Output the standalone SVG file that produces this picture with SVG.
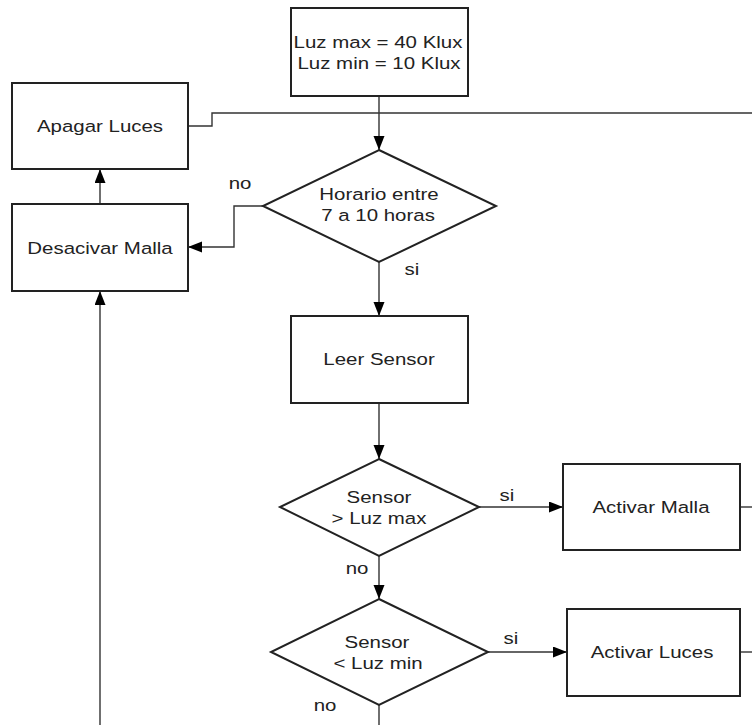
<svg xmlns="http://www.w3.org/2000/svg" width="752" height="725" viewBox="0 0 752 725">
<defs>
<style>
.box{fill:#fff;stroke:#222;stroke-width:2}
.conn{fill:none;stroke:#333;stroke-width:1.4}
.t{font-family:"Liberation Sans",Arial,sans-serif;font-size:16.5px;fill:#222;text-anchor:middle}
</style>
<marker id="ah" markerUnits="userSpaceOnUse" markerWidth="14" markerHeight="12" refX="14" refY="5.5" orient="auto">
<path d="M0,0 L14,5.5 L0,11 z" fill="#000"/>
</marker>
</defs>
<rect width="752" height="725" fill="#fff"/>
<g id="connectors">
<path class="conn" d="M379,96 L379,150" marker-end="url(#ah)"/>
<path class="conn" d="M188,126 L212,126 L212,113 L752,113"/>
<path class="conn" d="M263,206 L234,206 L234,247 L188,247" marker-end="url(#ah)"/>
<path class="conn" d="M100,204 L100,169" marker-end="url(#ah)"/>
<path class="conn" d="M100,725 L100,291" marker-end="url(#ah)"/>
<path class="conn" d="M379,262 L379,316" marker-end="url(#ah)"/>
<path class="conn" d="M379,403 L379,459" marker-end="url(#ah)"/>
<path class="conn" d="M379,556 L379,599" marker-end="url(#ah)"/>
<path class="conn" d="M479,507 L563,507" marker-end="url(#ah)"/>
<path class="conn" d="M488,652 L567,652" marker-end="url(#ah)"/>
<path class="conn" d="M379,705 L379,725"/>
<path class="conn" d="M740,507 L752,507"/>
<path class="conn" d="M740,652 L752,652"/>
<text class="t" transform="matrix(1.24 0 0 1 240 189)">no</text>
<text class="t" transform="matrix(1.24 0 0 1 412 275)">si</text>
<text class="t" transform="matrix(1.24 0 0 1 507 501)">si</text>
<text class="t" transform="matrix(1.24 0 0 1 357 574)">no</text>
<text class="t" transform="matrix(1.24 0 0 1 511 644)">si</text>
<text class="t" transform="matrix(1.24 0 0 1 325 711)">no</text>
</g>
<g id="start">
<rect class="box" x="291" y="8" width="177" height="88"/>
<text class="t" transform="matrix(1.24 0 0 1 378 48)">Luz max = 40 Klux</text>
<text class="t" transform="matrix(1.24 0 0 1 379 69)">Luz min = 10 Klux</text>
</g>
<g id="apagar-luces">
<rect class="box" x="12" y="83" width="176" height="86"/>
<text class="t" transform="matrix(1.24 0 0 1 100 132)">Apagar Luces</text>
</g>
<g id="desacivar-malla">
<rect class="box" x="12" y="204" width="176" height="87"/>
<text class="t" transform="matrix(1.24 0 0 1 100 254)">Desacivar Malla</text>
</g>
<g id="horario">
<polygon class="box" points="379,150 496,206 379,262 263,206"/>
<text class="t" transform="matrix(1.24 0 0 1 379 200)">Horario entre</text>
<text class="t" transform="matrix(1.24 0 0 1 378 221)">7 a 10 horas</text>
</g>
<g id="leer-sensor">
<rect class="box" x="291" y="316" width="177" height="87"/>
<text class="t" transform="matrix(1.24 0 0 1 379 365)">Leer Sensor</text>
</g>
<g id="sensor-max">
<polygon class="box" points="379,459 479,507 379,556 280,507"/>
<text class="t" transform="matrix(1.24 0 0 1 379 503)">Sensor</text>
<text class="t" transform="matrix(1.24 0 0 1 379 524)">&gt; Luz max</text>
</g>
<g id="activar-malla">
<rect class="box" x="563" y="464" width="177" height="86"/>
<text class="t" transform="matrix(1.24 0 0 1 651 513)">Activar Malla</text>
</g>
<g id="sensor-min">
<polygon class="box" points="379,599 488,652 379,705 271,652"/>
<text class="t" transform="matrix(1.24 0 0 1 377 648)">Sensor</text>
<text class="t" transform="matrix(1.24 0 0 1 378 669)">&lt; Luz min</text>
</g>
<g id="activar-luces">
<rect class="box" x="567" y="609" width="173" height="87"/>
<text class="t" transform="matrix(1.24 0 0 1 652 658)">Activar Luces</text>
</g>
</svg>
